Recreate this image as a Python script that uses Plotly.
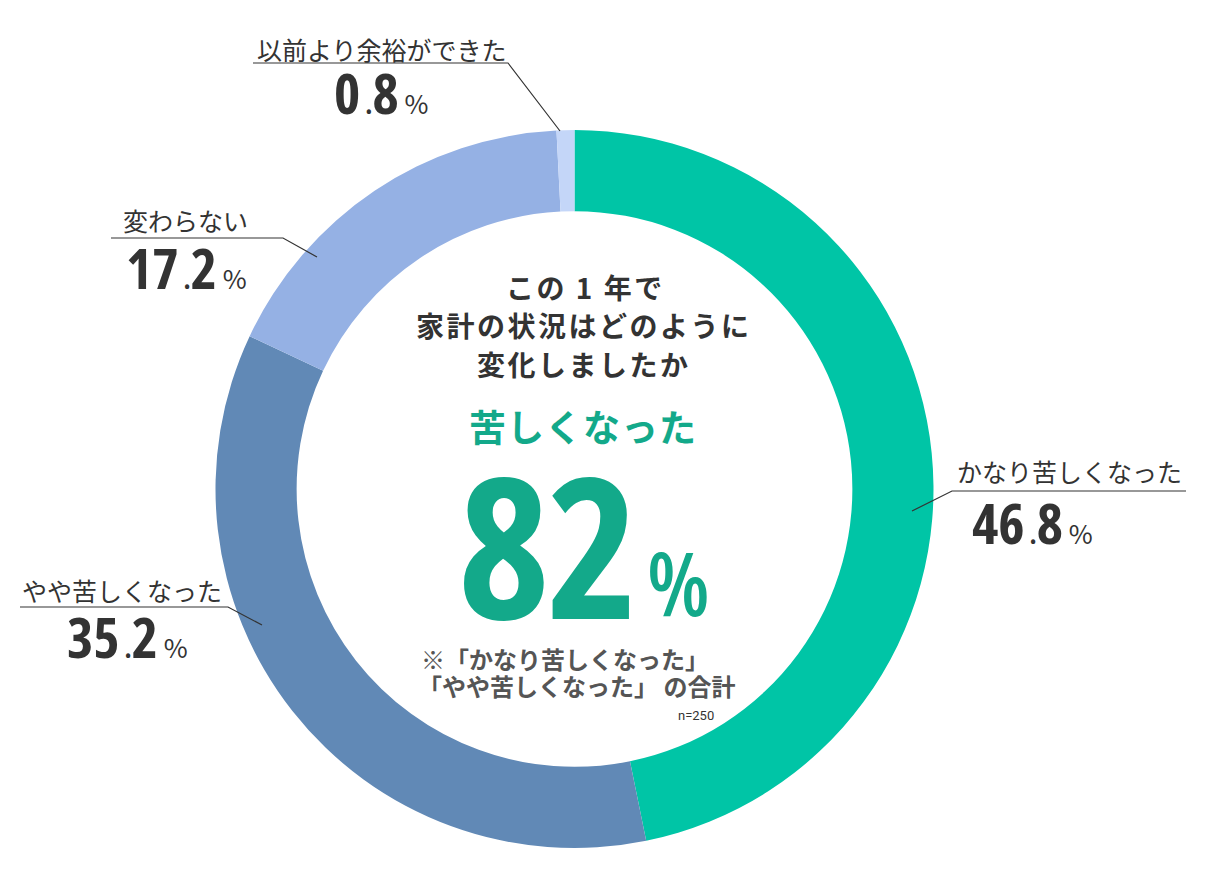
import plotly.graph_objects as go

# answers (clockwise from 12 o'clock)
labels = ["かなり苦しくなった", "やや苦しくなった", "変わらない", "以前より余裕ができた"]
values = [46.8, 35.2, 17.2, 0.8]
value_text = ["46.8", "35.2", "17.2", "0.8"]
colors = ["#00c5a6", "#6189b6", "#95b1e4", "#c4d6f8"]

total_label = "苦しくなった"
total_value = "82"
question = ["この 1 年で", "家計の状況はどのように", "変化しましたか"]
note = ["※「かなり苦しくなった」", "「やや苦しくなった」 の合計"]
sample = "n=250"

W, H = 1218, 879
OFF = 8  # page body margin, so reference pixels map 1:1
JP = "Noto Sans CJK JP"
NUM = "Open Sans"
COND = "font-stretch:condensed;"
DARK = "#333333"
GREEN = "#13a98a"

# ring: centre (574, 489), radius 359 px in reference pixels
cx, cy, r = 574.5 - OFF, 489 - OFF, 359
fig = go.Figure()
fig.add_trace(go.Pie(
    labels=labels, values=values, hole=0.774, sort=False,
    direction="clockwise", rotation=0,
    marker=dict(colors=colors, line=dict(width=0)),
    textinfo="none", hoverinfo="label+percent", showlegend=False,
    domain=dict(x=[(cx - r) / W, (cx + r) / W],
                y=[(H - cy - r) / H, (H - cy + r) / H]),
))

# label placement: label centre, number centre, leader path (pixels)
placement = {
    "かなり苦しくなった": dict(lab=(1069, 471), num=(1032, 522),
                          path="M 1186 491 L 952 491 L 912 511"),
    "やや苦しくなった": dict(lab=(122, 590), num=(127, 636),
                         path="M 20 607 L 228 607 L 262 625"),
    "変わらない": dict(lab=(185, 220), num=(186, 267),
                    path="M 111 238 L 283 238 L 317 257"),
    "以前より余裕ができた": dict(lab=(382, 49), num=(381, 92),
                           path="M 253 63 L 508 63 L 560 131"),
}

ann = []
shapes = []
for lab, val in zip(labels, value_text):
    p = placement[lab]
    whole, dec = val.split(".")
    ann.append(dict(x=p["lab"][0], y=p["lab"][1], text=lab, showarrow=False,
                    xanchor="center", yanchor="middle",
                    font=dict(family=JP, size=25, color=DARK)))
    ann.append(dict(x=p["num"][0], y=p["num"][1], showarrow=False,
                    xanchor="center", yanchor="middle",
                    text=f"<span style='{COND}font-weight:bold'>{whole}</span>"
                         f"<span style='{COND}font-weight:bold;font-size:28px'> .</span>"
                         f"<span style='{COND}font-weight:bold'>{dec}</span>"
                         f"<span style='font-size:26px;font-family:{JP}'> %</span>",
                    font=dict(family=NUM, size=56, color=DARK)))
    shapes.append(dict(type="path", path=p["path"], xref="x", yref="y",
                       line=dict(color=DARK, width=1.2)))

# centre texts
for txt, (x, y) in zip(question, [(585, 287), (584, 325), (584, 364)]):
    ann.append(dict(x=x, y=y, showarrow=False, xanchor="center", yanchor="middle",
                    text=f"<span style='letter-spacing:2.5px'><b>{txt}</b></span>",
                    font=dict(family=JP, size=28, color=DARK)))
for txt, (x, y) in zip(note, [(419, 658), (416, 685)]):
    ann.append(dict(x=x, y=y, showarrow=False, xanchor="left", yanchor="middle",
                    text=f"<b>{txt}</b>",
                    font=dict(family=JP, size=24, color="#555555")))
ann += [
    dict(x=583, y=426, text=f"<span style='letter-spacing:1px'><b>{total_label}</b></span>",
         showarrow=False, xanchor="center", yanchor="middle",
         font=dict(family=JP, size=37, color=GREEN)),
    dict(x=547, y=543, showarrow=False, xanchor="center", yanchor="middle",
         text=f"<span style='{COND}font-weight:bold;letter-spacing:-3px'>{total_value}</span>",
         font=dict(family=NUM, size=196, color=GREEN)),
    dict(x=678, y=582, showarrow=False, xanchor="center", yanchor="middle",
         text=f"<span style='{COND}font-weight:600'>%</span>",
         font=dict(family=NUM, size=88, color=GREEN)),
    dict(x=696, y=715, text=sample, showarrow=False,
         xanchor="center", yanchor="middle",
         font=dict(family="Roboto", size=13, color=DARK)),
]

fig.update_layout(
    width=W, height=H, margin=dict(l=0, r=0, t=0, b=0),
    paper_bgcolor="white", plot_bgcolor="white",
    xaxis=dict(range=[OFF, W + OFF], visible=False, fixedrange=True),
    yaxis=dict(range=[H + OFF, OFF], visible=False, fixedrange=True),
    annotations=[dict(a, xref="x", yref="y") for a in ann],
    shapes=shapes,
)

fig.write_html("out.html")
